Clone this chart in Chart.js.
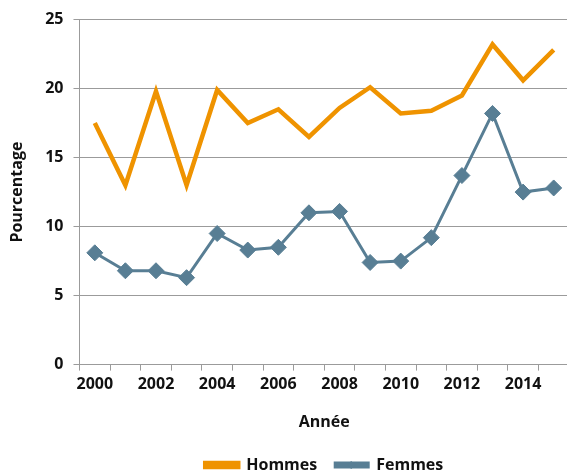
<!DOCTYPE html>
<html>
<head>
<meta charset="utf-8">
<script src="https://cdn.jsdelivr.net/npm/chart.js@4/dist/chart.umd.min.js"></script>
<style>
  html, body { margin: 0; padding: 0; background: #fff; overflow: hidden; }
  #wrap { width: 578px; height: 470px; }
</style>
</head>
<body>
<div id="wrap"><canvas id="chart"></canvas></div>
<script>
// Data
const years = ['2000', '2001', '2002', '2003', '2004', '2005', '2006', '2007',
               '2008', '2009', '2010', '2011', '2012', '2013', '2014', '2015'];
const hommes = [17.5, 13.0, 19.8, 13.0, 19.9, 17.5, 18.5, 16.5,
                18.6, 20.1, 18.2, 18.4, 19.5, 23.2, 20.6, 22.8];
const femmes = [8.1, 6.8, 6.8, 6.3, 9.5, 8.3, 8.5, 11.0,
                11.1, 7.4, 7.5, 9.2, 13.7, 18.2, 12.5, 12.8];
const yTicks = [0, 5, 10, 15, 20, 25];

const orange = '#EF9300';
const blue = '#587E94';
const gridGrey = '#9b9b9b';
const font = "'Open Sans', sans-serif";

// draw a diamond on top of the Femmes legend line
const legendDiamond = {
    id: 'legendDiamond',
    afterDraw(chart) {
        const legend = chart.legend;
        if (!legend || !legend.legendHitBoxes) return;
        const box = legend.legendHitBoxes[1];
        const ctx = chart.ctx;
        const cx = box.left + 16;
        const cy = box.top + box.height / 2;
        ctx.save();
        ctx.fillStyle = blue;
        ctx.beginPath();
        ctx.moveTo(cx - 4, cy);
        ctx.lineTo(cx, cy - 4);
        ctx.lineTo(cx + 4, cy);
        ctx.lineTo(cx, cy + 4);
        ctx.closePath();
        ctx.fill();
        ctx.restore();
    }
};

new Chart(document.getElementById('chart'), {
    type: 'line',
    data: {
        labels: years,
        datasets: [
            {
                label: 'Hommes',
                data: hommes,
                borderColor: orange,
                backgroundColor: orange,
                borderWidth: 4.5,
                pointRadius: 0,
                tension: 0
            },
            {
                label: 'Femmes',
                data: femmes,
                borderColor: blue,
                backgroundColor: blue,
                borderWidth: 3,
                pointStyle: 'rectRot',
                pointRadius: 8,
                pointBorderWidth: 1,
                pointBackgroundColor: blue,
                pointBorderColor: blue,
                tension: 0
            }
        ]
    },
    options: {
        responsive: true,
        maintainAspectRatio: false,
        animation: false,
        layout: { padding: { top: 16, right: 0, left: 4, bottom: -13 } },
        plugins: {
            tooltip: { enabled: false },
            legend: {
                position: 'bottom',
                fullSize: false,
                labels: {
                    boxWidth: 33,
                    boxHeight: 4,
                    padding: 18,
                    color: '#111',
                    font: { family: font, size: 16, weight: 'bold' }
                }
            }
        },
        scales: {
            x: {
                offset: true,
                grid: {
                    offset: true,
                    drawOnChartArea: false,
                    drawTicks: true,
                    tickLength: 6,
                    color: gridGrey
                },
                border: { color: gridGrey },
                ticks: {
                    autoSkip: false,
                    maxRotation: 0,
                    color: '#111',
                    padding: 4,
                    font: { family: font, size: 16, weight: 'bold' },
                    callback: function (value, index) {
                        return index % 2 === 0 ? years[index] : '';
                    }
                },
                title: {
                    display: true,
                    text: 'Année',
                    color: '#111',
                    padding: { top: 15, bottom: 7 },
                    font: { family: font, size: 16, weight: 'bold' }
                }
            },
            y: {
                min: yTicks[0],
                max: yTicks[yTicks.length - 1],
                afterBuildTicks: function (axis) {
                    axis.ticks = yTicks.map(v => ({ value: v }));
                },
                grid: {
                    color: gridGrey,
                    tickLength: 6,
                    drawTicks: true
                },
                border: { color: gridGrey },
                ticks: {
                    color: '#111',
                    padding: 10,
                    font: { family: font, size: 16, weight: 'bold' }
                },
                title: {
                    display: true,
                    text: 'Pourcentage',
                    color: '#111',
                    padding: { top: 4, bottom: 8 },
                    font: { family: font, size: 16, weight: 'bold' }
                }
            }
        }
    },
    plugins: [legendDiamond]
});
</script>
</body>
</html>
